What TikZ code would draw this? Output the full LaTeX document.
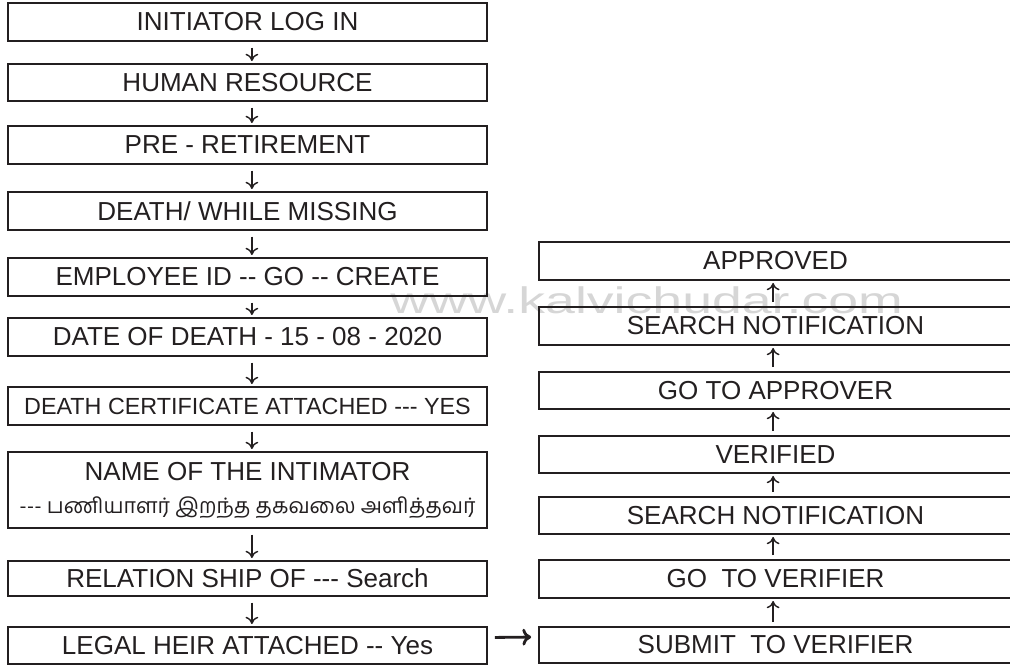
\documentclass[tikz,border=0pt]{standalone}
\usepackage{fontspec}
\setmainfont{Liberation Sans}[Ligatures=TeXOff]
\newfontfamily\tamilfont[Script=Tamil,Ligatures=TeXOff]{Hind Madurai}
\usetikzlibrary{arrows.meta}
\definecolor{inkline}{HTML}{231F20}
\definecolor{markgray}{HTML}{D6D6D6}
\tikzset{
    stepbox/.style={draw=inkline, line width=1.4pt, rectangle, inner sep=0pt,
        text=inkline, font=\fontsize{18.5}{23.5}\selectfont},
    leftbox/.style={stepbox, minimum width=11.975cm},
    rightbox/.style={stepbox, minimum width=11.825cm},
    downarrow/.style={draw=inkline, line width=1pt, -{To[length=1.8mm,width=3.2mm]},
        shorten <=0.14cm, shorten >=0.05cm},
    uparrow/.style={draw=inkline, line width=1pt, -{To[length=1.8mm,width=3.2mm]},
        shorten <=0.1cm, shorten >=0.05cm},
    bigarrow/.style={draw=inkline, line width=2pt, -{To[length=2.2mm,width=4.2mm]},
        shorten <=0.17cm, shorten >=0.17cm},
    watermark/.style={text=markgray, inner sep=0pt, font=\fontsize{26.3}{30}\selectfont}
}

\begin{document}
\begin{tikzpicture}[x=0.025cm, y=-0.025cm]
    \useasboundingbox (0,0) rectangle (1010,665);
    \node[watermark, anchor=base west] (site) at (390,313) {\scalebox{1.45}[1]{www.kalvichudar.com}};

    % left column
    \node[leftbox, minimum height=0.95cm] (login) at (247.5,22) {INITIATOR LOG IN};
    \node[leftbox, minimum height=0.925cm] (hr) at (247.5,82.5) {HUMAN RESOURCE};
    \node[leftbox, minimum height=0.95cm] (preret) at (247.5,145) {PRE - RETIREMENT};
    \node[leftbox, minimum height=0.95cm] (death) at (247.5,211) {DEATH/ WHILE MISSING};
    \node[leftbox, minimum height=0.95cm] (empid) at (247.5,277) {EMPLOYEE ID -- GO -- CREATE};
    \node[leftbox, minimum height=0.95cm] (dod) at (247.5,337) {DATE OF DEATH - 15 - 08 - 2020};
    \node[leftbox, minimum height=0.95cm, font=\fontsize{16.6}{20}\selectfont] (cert) at (247.5,406) {DEATH CERTIFICATE ATTACHED --- YES};
    \node[leftbox, minimum height=1.9cm, align=center] (intimator) at (247.5,490)
        {NAME OF THE INTIMATOR\\{\tamilfont\fontsize{15.2}{18}\selectfont --- பணியாளர் இறந்த தகவலை அளித்தவர்}};
    \node[leftbox, minimum height=0.875cm] (relation) at (247.5,578.5) {RELATION SHIP OF --- Search};
    \node[leftbox, minimum height=0.925cm] (heir) at (247.5,645.5) {LEGAL HEIR ATTACHED -- Yes};

    % right column
    \node[rightbox, minimum height=0.95cm] (approved) at (775.5,261) {APPROVED};
    \node[rightbox, minimum height=0.95cm] (searchb) at (775.5,326) {SEARCH NOTIFICATION};
    \node[rightbox, minimum height=0.925cm] (goapprover) at (775.5,390.5) {GO TO APPROVER};
    \node[rightbox, minimum height=0.925cm] (verified) at (775.5,454.5) {VERIFIED};
    \node[rightbox, minimum height=0.925cm] (searcha) at (775.5,515.5) {SEARCH NOTIFICATION};
    \node[rightbox, minimum height=0.95cm] (goverifier) at (775.5,579) {GO~ TO VERIFIER};
    \node[rightbox, minimum height=0.9cm] (submit) at (775.5,645) {SUBMIT~ TO VERIFIER};

    \foreach \a/\b in {login/hr, hr/preret, preret/death, death/empid, empid/dod,
        dod/cert, cert/intimator, intimator/relation, relation/heir} {
        \draw[downarrow] ([xshift=1.1mm]\a.south) -- ([xshift=1.1mm]\b.north);
    }
    \foreach \a/\b in {submit/goverifier, goverifier/searcha, searcha/verified,
        verified/goapprover, goapprover/searchb, searchb/approved} {
        \draw[uparrow] ([xshift=-0.6mm]\a.north) -- ([xshift=-0.6mm]\b.south);
    }
    \draw[bigarrow] ([yshift=0.2cm]heir.east) -- ([yshift=0.2cm]submit.west);
\end{tikzpicture}
\end{document}
